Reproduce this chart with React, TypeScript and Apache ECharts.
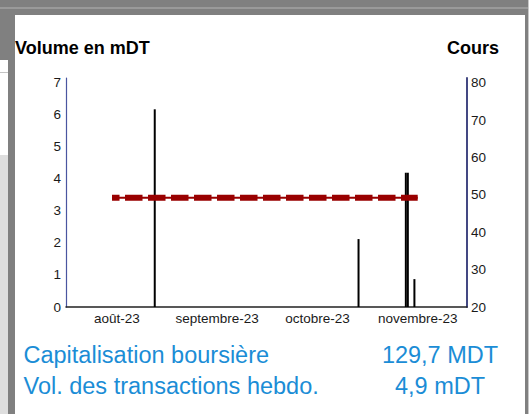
import React, { useEffect, useRef } from "react";
import * as echarts from "echarts";

const FONT = "'Liberation Sans', Arial, sans-serif";

// Data
const volumeDates = ["2023-08-28", "2023-10-29", "2023-11-13", "2023-11-15"];
const volumeValues = [6.17, 2.12, 4.19, 0.87];
const priceDates = ["2023-08-15", "2023-11-16"];
const priceValues = [49.2, 49.2];
const monthStarts = ["2023-08-01", "2023-09-01", "2023-10-01", "2023-11-01", "2023-12-01"];
const monthLabels = ["août-23", "septembre-23", "octobre-23", "novembre-23"];
const volumeTicks = [0, 1, 2, 3, 4, 5, 6, 7];
const priceTicks = [20, 30, 40, 50, 60, 70, 80];
const summaryLabels = ["Capitalisation boursière", "Vol. des transactions hebdo."];
const summaryValues = ["129,7 MDT", "4,9 mDT"];
const leftTitle = "Volume en mDT";
const rightTitle = "Cours";

const BLUE = "#1b8dd6";

export default function App() {
  const ref = useRef<HTMLDivElement>(null);

  useEffect(() => {
    if (!ref.current) return;
    const chart = echarts.init(ref.current, undefined, { renderer: "svg" });
    const t = (s: string) => Date.parse(s);
    const starts = monthStarts.map(t);
    const mids = monthLabels.map((_, i) => (starts[i] + starts[i + 1]) / 2);
    const monthOf = (v: number) => {
      for (let i = 0; i < monthLabels.length; i++) {
        if (v >= starts[i] && v < starts[i + 1]) return monthLabels[i];
      }
      return "";
    };
    // grid spans a bit above the top tick (axis lines extend past 7 / 80)
    const gridTop = 78;
    const gridBottomY = 307;
    const topTickY = 82.7;
    const vMin = volumeTicks[0];
    const vTop = volumeTicks[volumeTicks.length - 1];
    const vMax = vTop + ((topTickY - gridTop) * (vTop - vMin)) / (gridBottomY - topTickY);
    const pMin = priceTicks[0];
    const pTop = priceTicks[priceTicks.length - 1];
    const pMax = pTop + ((topTickY - gridTop) * (pTop - pMin)) / (gridBottomY - topTickY);

    const tickLabelStyle = { color: "#1a1a1a", fontSize: 13.5, fontFamily: FONT };

    chart.setOption({
      animation: false,
      grid: { left: 66, right: 62, top: gridTop, bottom: 414 - gridBottomY },
      xAxis: {
        type: "value",
        min: starts[0],
        max: starts[starts.length - 1],
        axisLine: { show: true, onZero: false, lineStyle: { color: "#222", width: 1.5 } },
        axisTick: { show: false },
        splitLine: { show: false },
        axisLabel: {
          ...tickLabelStyle,
          margin: 4,
          customValues: mids,
          formatter: (v: number) => monthOf(v),
        },
      },
      yAxis: [
        {
          type: "value",
          min: vMin,
          max: vMax,
          interval: 1,
          axisLine: { show: true, lineStyle: { color: "#4a55a0", width: 1.2 } },
          axisTick: { show: false },
          splitLine: { show: false },
          axisLabel: {
            ...tickLabelStyle,
            margin: 5,
            formatter: (v: number) => (volumeTicks.includes(v) ? String(v) : ""),
          },
        },
        {
          type: "value",
          position: "right",
          min: pMin,
          max: pMax,
          interval: 10,
          axisLine: { show: true, lineStyle: { color: "#2f3575", width: 1.8 } },
          axisTick: { show: false },
          splitLine: { show: false },
          axisLabel: {
            ...tickLabelStyle,
            margin: 4,
            formatter: (v: number) => (priceTicks.includes(v) ? String(v) : ""),
          },
        },
      ],
      series: [
        {
          name: "Volume",
          type: "bar",
          yAxisIndex: 0,
          barWidth: 2,
          itemStyle: { color: "#000" },
          data: volumeDates.map((d, i) => ({
            value: [t(d), volumeValues[i]],
            itemStyle:
              i === 2
                ? { shadowColor: "#000", shadowBlur: 0, shadowOffsetX: -2, shadowOffsetY: 0 }
                : undefined,
          })),
        },
        {
          name: "Cours (trait)",
          type: "line",
          yAxisIndex: 1,
          symbol: "none",
          lineStyle: { color: "#990000", width: 2 },
          data: priceDates.map((d, i) => [t(d), priceValues[i]]),
        },
        {
          name: "Cours",
          type: "line",
          yAxisIndex: 1,
          symbol: "none",
          lineStyle: {
            color: "#990000",
            width: 6,
            type: [17.5, 5.5],
            dashOffset: 10,
            cap: "butt",
          },
          data: priceDates.map((d, i) => [t(d), priceValues[i]]),
        },
      ],
      graphic: [
        {
          type: "text",
          left: 15,
          top: 39,
          style: { text: leftTitle, font: `bold 18px ${FONT}`, fill: "#000" },
        },
        {
          type: "text",
          right: 30,
          top: 39,
          style: { text: rightTitle, font: `bold 18px ${FONT}`, fill: "#000" },
        },
        ...summaryLabels.map((s, i) => ({
          type: "text",
          x: 23.5,
          y: 354.5 + i * 31.5,
          style: {
            text: s,
            font: `23.5px ${FONT}`,
            fill: BLUE,
            textAlign: "left",
            textVerticalAlign: "middle",
          },
        })),
        ...summaryValues.map((s, i) => ({
          type: "text",
          x: 440,
          y: 354.5 + i * 31.5,
          style: {
            text: s,
            font: `23.5px ${FONT}`,
            fill: BLUE,
            textAlign: "center",
            textVerticalAlign: "middle",
          },
        })),
      ],
    });
    return () => chart.dispose();
  }, []);

  const abs = (s: React.CSSProperties): React.CSSProperties => ({ position: "absolute", ...s });

  return (
    <div style={{ position: "fixed", left: 0, top: 0, width: 529, height: 414, overflow: "hidden", background: "#808080" }}>
      <div style={abs({ left: 0, top: 7, width: 529, height: 2, background: "#9a9a9a" })} />
      <div style={abs({ left: 0, top: 60, width: 8, height: 95, background: "#ffffff" })} />
      <div style={abs({ left: 0, top: 72, width: 8, height: 1, background: "#c4c4c4" })} />
      <div style={abs({ left: 0, top: 155, width: 8, height: 259, background: "#dedede" })} />
      <div style={abs({ left: 528, top: 0, width: 1, height: 414, background: "#c8c8c8" })} />
      <div style={abs({ left: 15, top: 15, width: 510, height: 399, background: "#ffffff" })} />
      <div ref={ref} style={abs({ left: 0, top: 0, width: 529, height: 414 })} />
    </div>
  );
}
